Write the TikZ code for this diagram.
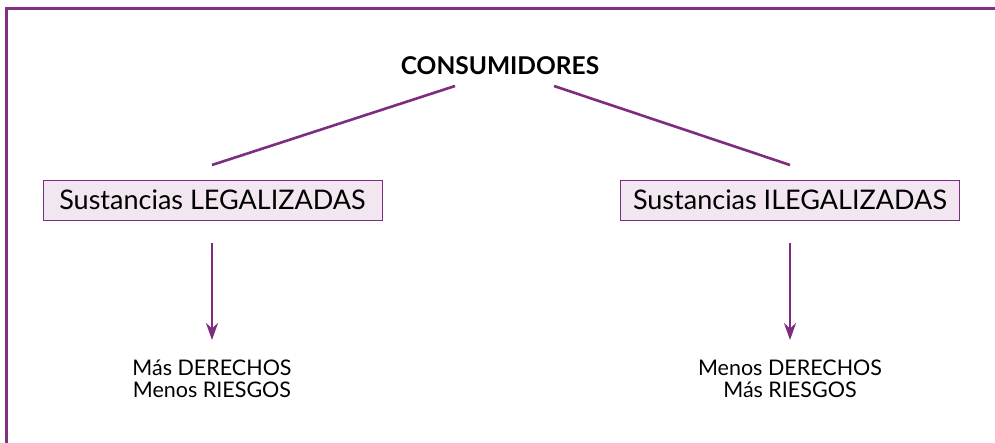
\documentclass[tikz,border=0pt]{standalone}
\usepackage{fontspec}
\setmainfont{Lato}
\usetikzlibrary{arrows.meta}
\definecolor{frameP}{HTML}{82307F}
\definecolor{lineP}{HTML}{7D2C80}
\definecolor{boxfill}{HTML}{F2E7F1}
\tikzset{
  catbox/.style={draw=lineP, line width=0.9pt, fill=boxfill, minimum width=339pt, minimum height=40pt, inner sep=0pt, font=\fontsize{27}{32}\selectfont},
  link/.style={draw=lineP, line width=2.6pt},
  arr/.style={draw=lineP, line width=2.6pt, -{Stealth[length=17pt,width=12pt]}},
  outtext/.style={align=center, font=\fontsize{21.5}{22}\selectfont},
}
\begin{document}
\begin{tikzpicture}[x=1pt,y=-1pt]
\useasboundingbox (0,0) rectangle (995,442);
\fill[white] (0,0) rectangle (995,442);
\draw[frameP, line width=3pt] (6.5,460) -- (6.5,8.5) -- (1010,8.5);
\node[font=\bfseries\fontsize{24.5}{28}\selectfont] (cons) at (500,66) {CONSUMIDORES};
\coordinate (cl) at (455,86);
\coordinate (cr) at (554,86);
\coordinate (ll) at (212,165);
\coordinate (rr) at (790,165);
\draw[link] (cl) -- (ll);
\draw[link] (cr) -- (rr);
\node[catbox] (leg) at (212.5,200) {Sustancias LEGALIZADAS};
\node[catbox] (ileg) at (790,200) {Sustancias ILEGALIZADAS};
\coordinate (la) at (212,243);
\coordinate (ra) at (790,243);
\coordinate (lae) at (212,340);
\coordinate (rae) at (790,340);
\node[outtext] (lout) at (212,379) {Más DERECHOS\\Menos RIESGOS};
\node[outtext] (rout) at (790,379) {Menos DERECHOS\\Más RIESGOS};
\draw[arr] (la) -- (lae);
\draw[arr] (ra) -- (rae);
\end{tikzpicture}
\end{document}
